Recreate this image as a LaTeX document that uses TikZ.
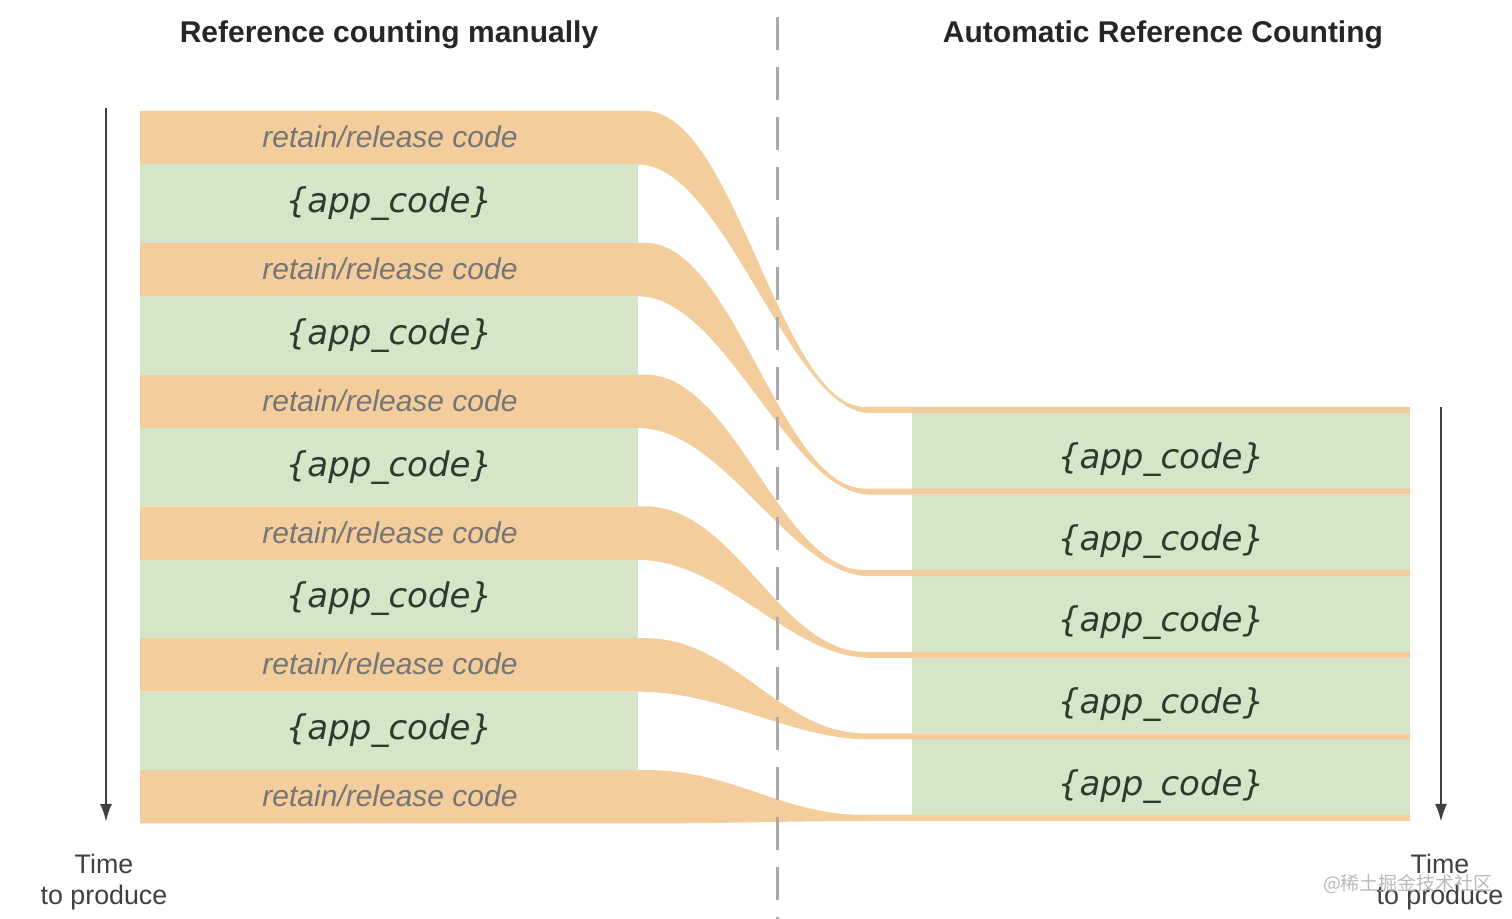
\documentclass[tikz,border=0pt]{standalone}
\usepackage{fontspec}
\setmainfont{Liberation Sans}
\newfontfamily\appfont{DejaVu Sans}
\newfontfamily\cjkfont{Noto Sans CJK SC}
\usetikzlibrary{arrows.meta,positioning,calc}

\definecolor{rrorange}{HTML}{F4CD9D}
\definecolor{appgreen}{HTML}{D4E5C8}
\definecolor{apptext}{HTML}{2E3A2E}
\definecolor{rrtext}{HTML}{767676}
\definecolor{divgray}{HTML}{ABABAB}

\begin{document}
\begin{tikzpicture}[x=0.5pt,y=-0.5pt,
  appblock/.style={fill=appgreen,inner sep=0pt,minimum width=249pt,minimum height=39.15pt,
                   font=\appfont\itshape\fontsize{17}{20}\selectfont,text=apptext},
  rrlabel/.style={font=\itshape\fontsize{15}{18}\selectfont,text=rrtext},
  headline/.style={font=\bfseries\fontsize{15}{18}\selectfont,text=black!85},
  timelabel/.style={align=center,font=\fontsize{13.4}{15.5}\selectfont,text=black!75},
  timearrow/.style={draw=black!75,line width=1.3pt,-{Latex[length=9pt,width=6pt]}}]
\useasboundingbox (0,0) rectangle (1512,919);

% headings
\node[headline] (manual) at (389,35) {Reference counting manually};
\node[headline] (arc) at (1163,35) {Automatic Reference Counting};

% right column app code
\foreach \i in {0,...,4} {
  \node[appblock,minimum height=37.8pt,text height=20pt,text depth=2pt]
    (appR\i) at (1161,{410+81.6*\i+40.8}) {\{app\_code\}};
}

% left column: retain/release bands flowing into thin lines
\foreach \i in {0,...,5} {
  \pgfmathsetmacro\yt{111+131.8*\i}
  \pgfmathsetmacro\yb{\yt+53.5}
  \pgfmathsetmacro\yT{410+81.6*\i}
  \fill[rrorange] (140,\yt) -- (645,\yt) .. controls (735,\yt) and (780,\yT-3) .. (865,\yT-3)
    -- (1410,\yT-3) -- (1410,\yT+3) -- (870,\yT+3)
    .. controls (790,\yT+3) and (725,\yb) .. (638,\yb) -- (140,\yb) -- cycle;
  \node[rrlabel] (rr\i) at (390,\yt+26) {retain/release code};
}
\foreach \i in {0,...,4} {
  \pgfmathsetmacro\yt{111+131.8*\i}
  \node[appblock] (appL\i) at (389,\yt+92.65) {\{app\_code\}};
}

% divider
\coordinate (divtop) at (777,-33);
\coordinate (divbot) at (777,919);
\draw[divgray,line width=1.5pt,dash pattern=on 16.5pt off 8.5pt] (divtop) -- (divbot);

% time arrows
\coordinate (tL) at (106,108);
\coordinate (tLend) at (106,822);
\coordinate (tR) at (1441,407);
\coordinate (tRend) at (1441,822);
\draw[timearrow] (tL) -- (tLend);
\draw[timearrow] (tR) -- (tRend);
\node[timelabel] (timeL) at (104,882) {Time\\to produce};
\node[timelabel] (timeR) at (1440,882) {Time\\to produce};

\node[text=gray!55,font=\cjkfont\fontsize{9.5}{11}\selectfont] (mark) at (1408,884) {@稀土掘金技术社区};
\end{tikzpicture}
\end{document}
